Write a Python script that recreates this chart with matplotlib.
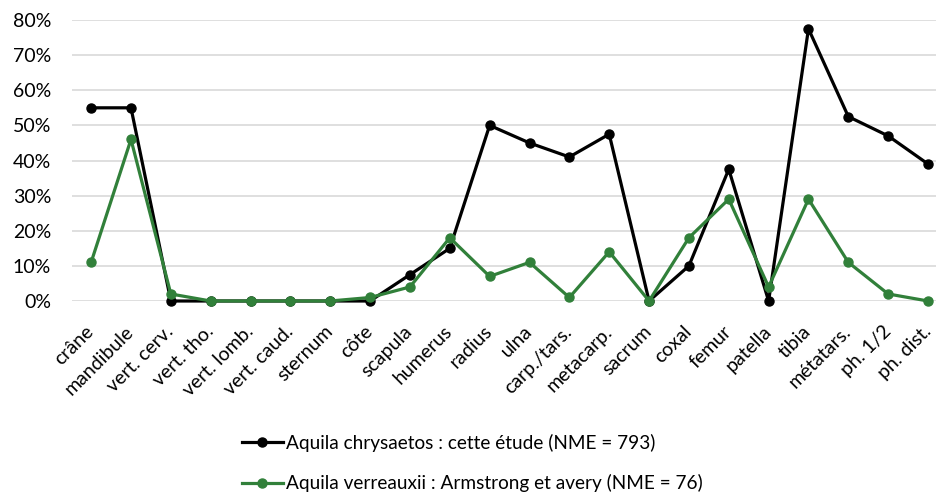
import matplotlib.pyplot as plt
from matplotlib.ticker import PercentFormatter

# Data (fractions)
categories = [
    "crâne", "mandibule", "vert. cerv.", "vert. tho.", "vert. lomb.",
    "vert. caud.", "sternum", "côte", "scapula", "humerus", "radius",
    "ulna", "carp./tars.", "metacarp.", "sacrum", "coxal", "femur",
    "patella", "tibia", "métatars.", "ph. 1/2", "ph. dist.",
]
chrysaetos = [
    0.55, 0.55, 0.0, 0.0, 0.0, 0.0, 0.0, 0.0, 0.075, 0.15, 0.50,
    0.45, 0.41, 0.475, 0.0, 0.10, 0.375, 0.0, 0.775, 0.525, 0.47, 0.39,
]
verreauxii = [
    0.11, 0.46, 0.02, 0.0, 0.0, 0.0, 0.0, 0.01, 0.04, 0.18, 0.07,
    0.11, 0.01, 0.14, 0.0, 0.18, 0.29, 0.04, 0.29, 0.11, 0.02, 0.0,
]
label_chrysaetos = "Aquila chrysaetos : cette étude (NME = 793)"
label_verreauxii = "Aquila verreauxii : Armstrong et avery (NME = 76)"

plt.rcParams["font.family"] = ["Lato", "DejaVu Sans"]

fig = plt.figure(figsize=(9.36, 4.96), dpi=100)
ax = fig.add_axes([72 / 936, 195 / 496, 864 / 936, 281 / 496])

x = list(range(len(categories)))
ax.plot(x, chrysaetos, color="black", lw=2.3, marker="o", ms=6.5,
        label=label_chrysaetos, clip_on=False, zorder=3)
ax.plot(x, verreauxii, color="#31803a", lw=2.3, marker="o", ms=6.5,
        label=label_verreauxii, clip_on=False, zorder=4)

ax.set_xlim(-0.48, 21.2)
ax.set_ylim(0, 0.8)
ax.set_yticks([i / 10 for i in range(9)])
ax.yaxis.set_major_formatter(PercentFormatter(1.0, decimals=0))
ax.set_xticks(x)
ax.set_xticklabels(categories, rotation=45, ha="right", va="center",
                   rotation_mode="anchor")
ax.tick_params(axis="both", length=0, labelsize=14, labelcolor="black")
ax.tick_params(axis="y", pad=15)
ax.tick_params(axis="x", pad=20)

ax.grid(axis="y", color="#d9d9d9", lw=1.2)
ax.set_axisbelow(True)
for s in ax.spines.values():
    s.set_visible(False)

fig.legend(loc="center", bbox_to_anchor=(472 / 936, 1 - 463 / 496),
           ncol=1, frameon=False, fontsize=13.7, handlelength=2.15,
           handletextpad=0.15, labelspacing=1.2)

fig.savefig("out.png", dpi=100)
